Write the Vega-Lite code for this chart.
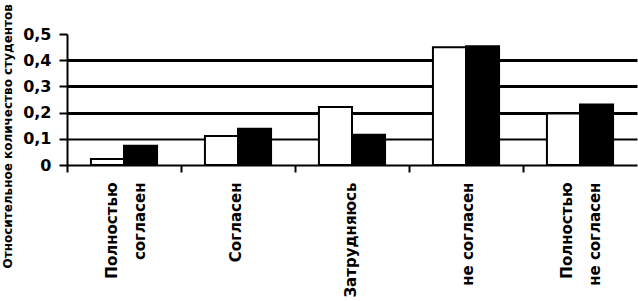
{
  "$schema": "https://vega.github.io/schema/vega-lite/v6.json",
  "width": 570,
  "height": 131,
  "autosize": "none",
  "padding": {"left": 67, "top": 34, "right": 1, "bottom": 136},
  "background": "white",
  "config": {"view": {"stroke": null}},
  "data": {"values": [
    {"cat": "Полностью согласен", "series": "A", "value": 0.023},
    {"cat": "Полностью согласен", "series": "B", "value": 0.073},
    {"cat": "Согласен", "series": "A", "value": 0.111},
    {"cat": "Согласен", "series": "B", "value": 0.138},
    {"cat": "Затрудняюсь", "series": "A", "value": 0.221},
    {"cat": "Затрудняюсь", "series": "B", "value": 0.115},
    {"cat": "не согласен", "series": "A", "value": 0.449},
    {"cat": "не согласен", "series": "B", "value": 0.453},
    {"cat": "Полностью не согласен", "series": "A", "value": 0.197},
    {"cat": "Полностью не согласен", "series": "B", "value": 0.231}
  ]},
  "mark": {"type": "bar", "stroke": "black", "strokeWidth": 2},
  "encoding": {
    "x": {
      "field": "cat", "type": "nominal",
      "sort": ["Полностью согласен", "Согласен", "Затрудняюсь", "не согласен", "Полностью не согласен"],
      "scale": {"paddingInner": 0.42, "paddingOuter": 0.21},
      "axis": {
        "title": null,
        "bandPosition": -0.362,
        "labelOffset": {"condition": [
          {"test": "datum.value == 'Полностью согласен'", "value": -11.6},
          {"test": "datum.value == 'Согласен'", "value": -2.5},
          {"test": "datum.value == 'Затрудняюсь'", "value": -1},
          {"test": "datum.value == 'не согласен'", "value": 2},
          {"test": "datum.value == 'Полностью не согласен'", "value": -13.2}
        ], "value": 0},
        "labelAngle": -90,
        "labelExpr": "datum.value == 'Полностью согласен' ? ['Полностью', 'согласен'] : datum.value == 'Полностью не согласен' ? ['Полностью', 'не согласен'] : datum.value",
        "labelFont": "DejaVu Sans", "labelFontSize": 15, "labelFontWeight": "bold", "labelColor": "black",
        "labelPadding": 10, "labelLineHeight": 28,
        "tickSize": 7, "tickWidth": 2, "tickColor": "black",
        "domainColor": "black", "domainWidth": 2,
        "grid": false
      }
    },
    "xOffset": {"field": "series", "type": "nominal", "scale": {"paddingInner": 0, "paddingOuter": 0}},
    "y": {
      "field": "value", "type": "quantitative",
      "scale": {"domain": [0, 0.5], "nice": false},
      "axis": {
        "values": [0, 0.1, 0.2, 0.3, 0.4, 0.5],
        "title": "Относительное количество студентов",
        "titleFont": "DejaVu Sans", "titleFontSize": 12, "titleFontWeight": "bold", "titleColor": "black",
        "titleAngle": -90, "titleAlign": "left", "titleBaseline": "middle",
        "titleX": -60, "titleY": 234,
        "labelExpr": "datum.value == 0 ? '0' : replace(format(datum.value, '.1f'), '.', ',')",
        "labelFont": "DejaVu Sans", "labelFontSize": 16, "labelFontWeight": "bold", "labelColor": "black",
        "labelPadding": 8,
        "tickSize": 8, "tickWidth": 2, "tickColor": "black",
        "domainColor": "black", "domainWidth": 2,
        "grid": true, "gridColor": "black",
        "gridWidth": {"condition": {"test": "datum.value == 0.1", "value": 2}, "value": 3},
        "gridOpacity": {"condition": {"test": "datum.value > 0.45 || datum.value == 0", "value": 0}, "value": 1}
      }
    },
    "fill": {
      "field": "series", "type": "nominal",
      "scale": {"domain": ["A", "B"], "range": ["white", "black"]},
      "legend": null
    }
  }
}
